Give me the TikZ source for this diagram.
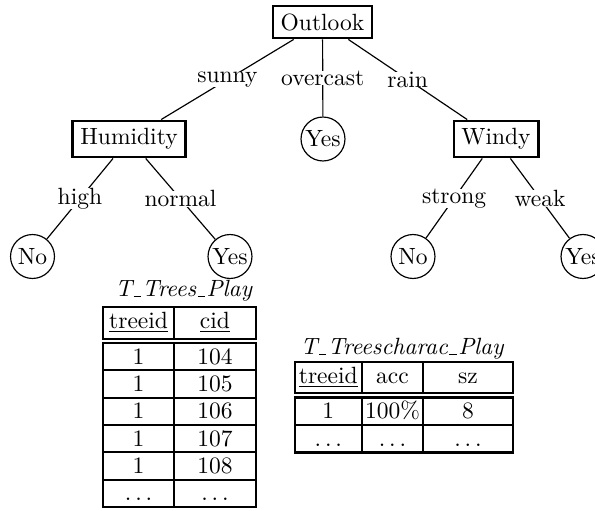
\documentclass[tikz,border=0pt]{standalone}
% short underscore bar sitting on the baseline, as in classic TeX fonts
\newcommand{\usbar}{\kern0.06em\rule{0.32em}{0.6pt}\kern0.06em}
\begin{document}
\begin{tikzpicture}[x=0.4255pt,y=-0.4255pt,
  test/.style={draw,rectangle,line width=0.9pt,inner sep=3.33pt},
  leaf/.style={draw,circle,line width=0.5pt,inner sep=0.5pt,minimum size=18.7pt},
  lbl/.style={fill=white,inner sep=0pt},
  branch/.style={line width=0.5pt},
  tbl/.style={line width=0.9pt},
  cell/.style={anchor=base,inner sep=0pt},
]
\useasboundingbox (0,0) rectangle (595,511);

% decision tree
\node[test] (outlook) at (322.5,22) {Outlook};
\node[test] (humid) at (129,139) {Humidity};
\node[leaf] (yes1) at (323,139) {Yes};
\node[test] (windy) at (496,139) {Windy};
\node[leaf] (no1) at (32.5,256.5) {No};
\node[leaf] (yes2) at (230,256.5) {Yes};
\node[leaf] (no2) at (413,256.5) {No};
\node[leaf] (yes3) at (583,256.5) {Yes};

\draw[branch] (outlook) -- node[lbl] (lsunny) {sunny} (humid);
\draw[branch] (outlook) -- node[lbl] (lover) {overcast} (yes1);
\draw[branch] (outlook) -- node[lbl] (lrain) {rain} (windy);
\draw[branch] (humid) -- node[lbl] (lhigh) {high} (no1);
\draw[branch] (humid) -- node[lbl] (lnormal) {normal} (yes2);
\draw[branch] (windy) -- node[lbl] (lstrong) {strong} (no2);
\draw[branch] (windy) -- node[lbl] (lweak) {weak} (yes3);

% table T_Trees_Play
\node[cell] (t1title) at (184,297) {\textit{T\usbar Trees\usbar Play}};
\draw[tbl] (103.3,307) rectangle (255.7,339);
\draw[tbl] (174,307) -- (174,339);
\node[cell] (t1h1) at (138.6,328) {\underline{treeid}};
\node[cell] (t1h2) at (215,328) {\underline{cid}};
\draw[tbl] (103.3,343) rectangle (255.7,507);
\draw[tbl] (174,343) -- (174,507);
\foreach \i in {1,...,5}
  \draw[tbl] (103.3,{343+\i*27.33}) -- (255.7,{343+\i*27.33});
\foreach \v [count=\i] in {104,105,106,107,108} {
  \node[cell] (t1a\i) at (138.6,{343+(\i-0.5)*27.33+7.5}) {1};
  \node[cell] (t1b\i) at (215,{343+(\i-0.5)*27.33+7.5}) {\v};
}
\node[cell] (t1a6) at (138.6,{343+5.5*27.33+7.5}) {$\ldots$};
\node[cell] (t1b6) at (215,{343+5.5*27.33+7.5}) {$\ldots$};

% table T_Treescharac_Play
\node[cell] (t2title) at (402.5,355) {\textit{T\usbar Treescharac\usbar Play}};
\draw[tbl] (295,362) rectangle (512.7,393);
\draw[tbl] (361.7,362) -- (361.7,393);
\draw[tbl] (423.3,362) -- (423.3,393);
\node[cell] (t2h1) at (328.3,383) {\underline{treeid}};
\node[cell] (t2h2) at (392.5,383) {acc};
\node[cell] (t2h3) at (468,383) {sz};
\draw[tbl] (295,397.5) rectangle (512.7,452.5);
\draw[tbl] (361.7,397.5) -- (361.7,452.5);
\draw[tbl] (423.3,397.5) -- (423.3,452.5);
\draw[tbl] (295,425) -- (512.7,425);
\node[cell] (t2a1) at (328.3,418.7) {1};
\node[cell] (t2b1) at (392.5,418.7) {100\%};
\node[cell] (t2c1) at (468,418.7) {8};
\node[cell] (t2a2) at (328.3,446) {$\ldots$};
\node[cell] (t2b2) at (392.5,446) {$\ldots$};
\node[cell] (t2c2) at (468,446) {$\ldots$};
\end{tikzpicture}
\end{document}
